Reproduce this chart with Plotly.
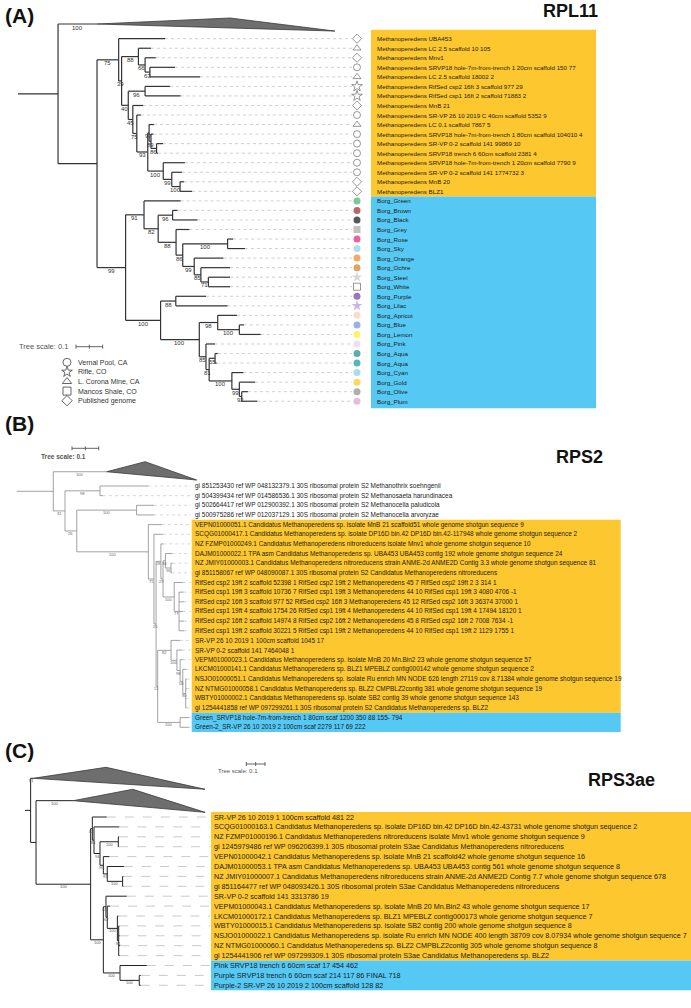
import plotly.graph_objects as go

W, H = 691, 1008
FONT = "Liberation Sans, Arial, Helvetica, sans-serif"
ORANGE = "#fdc72f"
BLUE = "#55c9f4"

# ======================= Panel A : RPL11 =======================
A_leaf_names = [
    "Methanoperedens UBA453",
    "Methanoperedens LC 2.5 scaffold 10 105",
    "Methanoperedens Mnv1",
    "Methanoperedens SRVP18 hole-7m-from-trench 1 20cm scaffold 150 77",
    "Methanoperedens LC 2.5 scaffold 18002 2",
    "Methanoperedens RifSed csp2 16ft 3 scaffold 977 29",
    "Methanoperedens RifSed csp1 16ft 2 scaffold 71883 2",
    "Methanoperedens MnB 21",
    "Methanoperedens SR-VP 26 10 2019 C 40cm scaffold 5352 9",
    "Methanoperedens LC 0.1 scaffold 7867 5",
    "Methanoperedens SRVP18 hole-7m-from-trench 1 80cm scaffold 104010 4",
    "Methanoperedens SR-VP 0-2 scaffold 141 99869 10",
    "Methanoperedens SRVP18 trench 6 60cm scaffold 2381 4",
    "Methanoperedens SRVP18 hole-7m-from-trench 1 20cm scaffold 7790 9",
    "Methanoperedens SR-VP 0-2 scaffold 141 1774732 3",
    "Methanoperedens MnB 20",
    "Methanoperedens BLZ1",
    "Borg_Green", "Borg_Brown", "Borg_Black", "Borg_Grey", "Borg_Rose", "Borg_Sky",
    "Borg_Orange", "Borg_Ochre", "Borg_Steel", "Borg_White", "Borg_Purple", "Borg_Lilac",
    "Borg_Apricot", "Borg_Blue", "Borg_Lemon", "Borg_Pink", "Borg_Aqua", "Borg_Aqua",
    "Borg_Cyan", "Borg_Gold", "Borg_Olive", "Borg_Plum",
]
A_leaf_depth = [0.551, 0.498, 0.516, 0.588, 0.682, 0.569, 0.609, 0.469, 0.460, 0.509,
                0.507, 0.543, 0.524, 0.625, 0.614, 0.622, 0.652,
                0.609, 0.597, 0.672, 0.642, 0.806, 0.850, 0.769, 0.794, 0.794, 0.794,
                0.704, 0.785, 0.820, 0.846, 0.909, 0.738, 0.748, 0.744, 0.844, 0.888,
                0.861, 0.896]
A_leaf_symbol = (["diamond-open", "triangle-up-open", "diamond-open", "circle-open",
                  "triangle-up-open", "star-open", "star-open", "diamond-open", "circle-open",
                  "triangle-up-open", "circle-open", "circle-open", "circle-open",
                  "circle-open", "circle-open", "diamond-open", "diamond-open"]
                 + ["circle", "circle", "circle", "square", "circle", "circle", "circle",
                    "circle", "star", "square-open", "circle", "star", "circle", "circle",
                    "circle", "circle", "circle", "circle", "circle", "circle", "circle",
                    "circle"])
A_leaf_color = (["#5a5a5a"] * 17
                + ["#3cb371", "#a3232b", "#111111", "#a6a6a6", "#e5197c", "#8ad0ee",
                   "#f4822b", "#cf7a2a", "#c8c8c8", "#5a5a5a", "#6b3fa0", "#a998dc",
                   "#f6cfb1", "#6e8fda", "#fff021", "#ecd0e4", "#148a8e", "#13959f",
                   "#7fd3e1", "#fdc814", "#8c8c8c", "#d59fcb"])

A_node_names = ["root", "A", "B", "C", "D", "F", "G", "E", "H", "I", "J", "K", "L", "L2",
                "L3", "M", "N", "O", "P", "Q", "S", "T", "U", "V", "W", "X", "Y", "Z",
                "R", "AA", "AB", "AC", "AE", "AD", "AF", "AQ", "AG", "AH", "AI"]
A_node_depth = [0.150, 0.296, 0.377, 0.388, 0.451, 0.476, 0.494, 0.413, 0.476, 0.430,
                0.445, 0.486, 0.491, 0.498, 0.519, 0.544, 0.576, 0.607, 0.403, 0.472,
                0.525, 0.579, 0.592, 0.617, 0.785, 0.660, 0.685, 0.713, 0.534, 0.591,
                0.679, 0.748, 0.829, 0.704, 0.716, 0.738, 0.801, 0.829, 0.838]
A_node_children = [["clA", "A"], ["B", "P"], [0, "C"], ["D", "E"], [1, "F"], [2, "G"],
                   [3, 4], ["H", "I"], [5, 6], [7, "J"], [8, "K"], ["L", "M"], [9, "L2"],
                   [10, "L3"], [11, 12], [13, "N"], [14, "O"], [15, 16], ["Q", "R"],
                   [17, "S"], ["T", "U"], [18, 19], [20, "V"], ["W", "X"], [21, 22],
                   [23, "Y"], [24, "Z"], [25, 26], ["AA", "AB"], [27, 28], ["AC", "AD"],
                   [29, "AE"], [30, 31], [32, "AF"], ["AQ", "AG"], [33, 34], [35, "AH"],
                   [36, "AI"], [37, 38]]
A_node_support = [None, None, 75, 39, 88, 66, 63, 40, 96, 45, 75, 93, 97, 89, 86, 100, 99,
                  100, 99, 91, 82, 96, 88, 86, 100, 99, 85, 71, 100, 88, 100, 98, 100, 85,
                  81, 55, 100, 99, 92]
A_clade_names = ["clA"]
A_clade_depth = [[0.296, 0.794, 1.187]]
A_clade_rows = [[-1.54, -2.17, -0.80]]
A_clade_support = [100]
A_legend_labels = ["Vernal Pool, CA", "Rifle, CO", "L. Corona Mine, CA",
                   "Mancos Shale, CO", "Published genome"]
A_legend_symbols = ["circle-open", "star-open", "triangle-up-open", "square-open",
                    "diamond-open"]

# ======================= Panel B : RPS2 =======================
B_leaf_names = [
    "gi 851253430 ref WP 048132379.1 30S ribosomal protein S2 Methanothrix soehngenii",
    "gi 504399434 ref WP 014586536.1 30S ribosomal protein S2 Methanosaeta harundinacea",
    "gi 502664417 ref WP 012900392.1 30S ribosomal protein S2 Methanocella paludicola",
    "gi 500975286 ref WP 012037129.1 30S ribosomal protein S2 Methanocella arvoryzae",
    "VEPN01000051.1 Candidatus Methanoperedens sp. isolate MnB 21 scaffold51 whole genome shotgun sequence 9",
    "SCQG01000417.1 Candidatus Methanoperedens sp. isolate DP16D bin.42 DP16D bin.42-117948 whole genome shotgun sequence 2",
    "NZ FZMP01000249.1 Candidatus Methanoperedens nitroreducens isolate Mnv1 whole genome shotgun sequence 10",
    "DAJM01000022.1 TPA asm Candidatus Methanoperedens sp. UBA453 UBA453 contig 192 whole genome shotgun sequence 24",
    "NZ JMIY01000003.1 Candidatus Methanoperedens nitroreducens strain ANME-2d ANME2D Contig 3.3 whole genome shotgun sequence 81",
    "gi 851158067 ref WP 048090087.1 30S ribosomal protein S2 Candidatus Methanoperedens nitroreducens",
    "RifSed csp2 19ft 2 scaffold 52398 1 RifSed csp2 19ft 2 Methanoperedens 45 7 RifSed csp2 19ft 2 3 314 1",
    "RifSed csp1 19ft 3 scaffold 10736 7 RifSed csp1 19ft 3 Methanoperedens 44 10 RifSed csp1 19ft 3 4080 4706 -1",
    "RifSed csp2 16ft 3 scaffold 977 52 RifSed csp2 16ft 3 Methanoperedens 45 12 RifSed csp2 16ft 3 36374 37000 1",
    "RifSed csp1 19ft 4 scaffold 1754 26 RifSed csp1 19ft 4 Methanoperedens 44 10 RifSed csp1 19ft 4 17494 18120 1",
    "RifSed csp2 16ft 2 scaffold 14974 8 RifSed csp2 16ft 2 Methanoperedens 45 8 RifSed csp2 16ft 2 7008 7634 -1",
    "RifSed csp1 19ft 2 scaffold 30221 5 RifSed csp1 19ft 2 Methanoperedens 44 10 RifSed csp1 19ft 2 1129 1755 1",
    "SR-VP 26 10 2019 1 100cm scaffold 1045 17",
    "SR-VP 0-2 scaffold 141 7464048 1",
    "VEPM01000023.1 Candidatus Methanoperedens sp. isolate MnB 20 Mn.Bin2 23 whole genome shotgun sequence 57",
    "LKCM01000141.1 Candidatus Methanoperedens sp. BLZ1 MPEBLZ contig000142 whole genome shotgun sequence 2",
    "NSJO01000051.1 Candidatus Methanoperedens sp. isolate Ru enrich MN NODE 626 length 27119 cov 8.71384 whole genome shotgun sequence 19",
    "NZ NTMG01000058.1 Candidatus Methanoperedens sp. BLZ2 CMPBLZ2contig 381 whole genome shotgun sequence 19",
    "WBTY01000002.1 Candidatus Methanoperedens sp. isolate SB2 contig 39 whole genome shotgun sequence 143",
    "gi 1254441858 ref WP 097299261.1 30S ribosomal protein S2 Candidatus Methanoperedens sp. BLZ2",
    "Green_SRVP18 hole-7m-from-trench 1 80cm scaf 1200 350 88 155- 794",
    "Green-2_SR-VP 26 10 2019 2 100cm scaf 2279 117 69 222",
]
B_leaf_depth = [0.493, 0.323, 0.514, 0.514, 0.544, 0.548, 0.549, 0.582, 0.584, 0.582,
                0.623, 0.625, 0.627, 0.623, 0.627, 0.628, 0.612, 0.619, 0.623, 0.634,
                0.638, 0.636, 0.634, 0.636, 0.645, 0.645]
B_node_names = ["root", "N31", "N98", "N26", "N100a", "N100b", "N75", "N25", "N28", "N29",
                "N36", "Npr", "N100r", "N77", "N21", "NSR", "NSR2", "NM", "NM2", "NM3", "NG"]
B_node_depth = [0.137, 0.181, 0.312, 0.225, 0.449, 0.493, 0.514, 0.522, 0.540, 0.548,
                0.557, 0.578, 0.590, 0.608, 0.528, 0.578, 0.600, 0.612, 0.622, 0.633, 0.612]
B_node_children = [["clB", "N31"], ["N98", "N26"], [0, 1], ["N100a", "N100b"], [2, 3],
                   [4, "N75"], [5, "N25"], ["N28", "N21"], [6, "N29"], ["N36", "N100r"],
                   [7, "Npr"], [8, 9], [10, "N77"], [11, 12, 13, 14, 15], ["NSR", "NG"],
                   [16, "NSR2"], [17, "NM"], [18, "NM2"], [19, "NM3"], [20, 21, 22, 23],
                   [24, 25]]
B_node_support = [None, 31, 98, 26, 100, 100, 75, 25, 28, 29, 36, 96, 100, 77, 21, 82,
                  100, 98, 58, 80, 100]
B_clade_names = ["clB"]
B_clade_depth = [[0.337, 0.481, 0.674]]
B_clade_rows = [[-1.48, -2.52, -0.62]]
B_clade_support = [100]

# ======================= Panel C : RPS3ae =======================
C_leaf_names = [
    "SR-VP 26 10 2019 1 100cm scaffold 481 22",
    "SCQG01000163.1 Candidatus Methanoperedens sp. isolate DP16D bin.42 DP16D bin.42-43731 whole genome shotgun sequence 2",
    "NZ FZMP01000196.1 Candidatus Methanoperedens nitroreducens isolate Mnv1 whole genome shotgun sequence 9",
    "gi 1245979486 ref WP 096206399.1 30S ribosomal protein S3ae Candidatus Methanoperedens nitroreducens",
    "VEPN01000042.1 Candidatus Methanoperedens sp. isolate MnB 21 scaffold42 whole genome shotgun sequence 16",
    "DAJM01000053.1 TPA asm Candidatus Methanoperedens sp. UBA453 UBA453 contig 561 whole genome shotgun sequence 8",
    "NZ JMIY01000007.1 Candidatus Methanoperedens nitroreducens strain ANME-2d ANME2D Contig 7.7 whole genome shotgun sequence 678",
    "gi 851164477 ref WP 048093426.1 30S ribosomal protein S3ae Candidatus Methanoperedens nitroreducens",
    "SR-VP 0-2 scaffold 141 3313786 19",
    "VEPM01000043.1 Candidatus Methanoperedens sp. isolate MnB 20 Mn.Bin2 43 whole genome shotgun sequence 17",
    "LKCM01000172.1 Candidatus Methanoperedens sp. BLZ1 MPEBLZ contig000173 whole genome shotgun sequence 7",
    "WBTY01000015.1 Candidatus Methanoperedens sp. isolate SB2 contig 200 whole genome shotgun sequence 8",
    "NSJO01000022.1 Candidatus Methanoperedens sp. isolate Ru enrich MN NODE 400 length 38709 cov 8.07934 whole genome shotgun sequence 7",
    "NZ NTMG01000060.1 Candidatus Methanoperedens sp. BLZ2 CMPBLZ2contig 305 whole genome shotgun sequence 8",
    "gi 1254441906 ref WP 097299309.1 30S ribosomal protein S3ae Candidatus Methanoperedens sp. BLZ2",
    "Pink SRVP18 trench 6 60cm scaf 17 454 462",
    "Purple SRVP18 trench 6 60cm scaf 214 117 86 FINAL 718",
    "Purple-2 SR-VP 26 10 2019 2 100cm scaffold 128 82",
]
C_leaf_depth = [0.437, 0.504, 0.503, 0.503, 0.451, 0.529, 0.526, 0.526, 0.544, 0.455,
                0.499, 0.504, 0.506, 0.508, 0.506, 0.651, 0.619, 0.619]
C_node_names = ["root", "NX", "NY", "NT", "NT2", "NT3", "NP23", "NT4", "NT5", "NQ",
                "NB2", "NMeth", "NM2", "NM3", "NM4", "NBorg", "NPur"]
C_node_depth = [0.030, 0.059, 0.351, 0.360, 0.369, 0.401, 0.499, 0.419, 0.440, 0.522,
                0.419, 0.433, 0.440, 0.494, 0.501, 0.508, 0.611]
C_node_children = [["clC1", "NX"], ["clC2", "NY"], ["NT", "NB2"], [0, "NT2"], [1, "NT3"],
                   ["NP23", "NT4"], [2, 3], [4, "NT5"], [5, "NQ"], [6, 7],
                   ["NMeth", "NBorg"], [8, "NM2"], [9, "NM3"], [10, "NM4"],
                   [11, 12, 13, 14], [15, "NPur"], [16, 17]]
C_node_support = [None, None, 100, 82, 84, 94, 100, 90, 91, 100, 100, 84, 62, 100, 81,
                  100, 100]
C_clade_names = ["clC1", "clC2"]
C_clade_depth = [[0.044, 0.433, 0.963], [0.258, 0.576, 0.963]]
C_clade_rows = [[-3.91, -5.02, -2.80], [-1.65, -2.80, -0.47]]
C_clade_support = [81, 100]

SCALE_LEN = 0.1

# ======================= layout geometry (pixels) =======================
PANELS = {
    "A": dict(x0=18.0, ppu=267.0, y0=38.7, rowh=9.54, xa="x", ya="y"),
    "B": dict(x0=16.7, ppu=267.0, y0=486.0, rowh=9.65, xa="x2", ya="y2"),
    "C": dict(x0=25.0, ppu=187.0, y0=817.0, rowh=9.9, xa="x3", ya="y3"),
}


def dx(p, px):
    g = PANELS[p]
    return (px - g["x0"]) / g["ppu"]


def dy(p, py):
    g = PANELS[p]
    return (py - g["y0"]) / g["rowh"]


def layout_tree(node_names, node_depth, node_children, node_support, leaf_depth,
                clade_names, clade_depth, clade_rows, clade_support):
    depth = dict(zip(node_names, node_depth))
    kids = dict(zip(node_names, node_children))
    sup = dict(zip(node_names, node_support))
    cl = {n: i for i, n in enumerate(clade_names)}
    parent = {}
    for n, ch in kids.items():
        for c in ch:
            parent[c] = n
    memo = {}

    def yy(c):
        if isinstance(c, int):
            return float(c)
        if c in cl:
            return clade_rows[cl[c]][0]
        if c not in memo:
            memo[c] = (yy(kids[c][0]) + yy(kids[c][-1])) / 2.0
        return memo[c]

    def dd(c):
        if isinstance(c, int):
            return leaf_depth[c]
        if c in cl:
            return clade_depth[cl[c]][0]
        return depth[c]

    xs, ys = [], []
    root = node_names[0]
    xs += [0.0, depth[root], None]
    ys += [yy(root), yy(root), None]
    for n in node_names:
        ch = kids[n]
        xs += [depth[n], depth[n], None]
        ys += [yy(ch[0]), yy(ch[-1]), None]
        for c in ch:
            xs += [depth[n], dd(c), None]
            ys += [yy(c), yy(c), None]
    labels = []
    for n in node_names:
        if n in parent and sup[n] is not None:
            labels.append(((dd(parent[n]) + dd(n)) / 2.0, yy(n), str(sup[n])))
    for c in clade_names:
        labels.append(((dd(parent[c]) + dd(c)) / 2.0, yy(c), str(clade_support[cl[c]])))
    return xs, ys, labels


fig = go.Figure()
annotations = []
shapes = []


def add_panel(p, leaf_names, leaf_depth, node_names, node_depth, node_children,
              node_support, clade_names, clade_depth, clade_rows, clade_support,
              branch_color, branch_width, sup_size, sup_color, sup_shift,
              leader_end_px, leader_color, leader_dash, text_px, text_size,
              boxes):
    g = PANELS[p]
    xa, ya = g["xa"], g["ya"]
    for (bx0, bx1, r0, r1, col) in boxes:
        shapes.append(dict(type="rect", xref="paper", yref=ya,
                           x0=bx0 / W, x1=bx1 / W, y0=r0, y1=r1,
                           fillcolor=col, line=dict(width=0), layer="below"))
    lx, ly = [], []
    lend = dx(p, leader_end_px)
    for i, d in enumerate(leaf_depth):
        lx += [d, lend, None]
        ly += [i, i, None]
    fig.add_trace(go.Scatter(x=lx, y=ly, mode="lines", xaxis=xa, yaxis=ya,
                             line=dict(color=leader_color, width=0.8, dash=leader_dash),
                             hoverinfo="skip", showlegend=False))
    for cd, cr in zip(clade_depth, clade_rows):
        fig.add_trace(go.Scatter(x=[cd[0], cd[1], cd[2], cd[0]],
                                 y=[cr[0], cr[1], cr[2], cr[0]],
                                 mode="lines", fill="toself", fillcolor="#6e6e6e",
                                 line=dict(color="#3a3a3a", width=0.8),
                                 xaxis=xa, yaxis=ya, hoverinfo="skip", showlegend=False))
    xs, ys, labels = layout_tree(node_names, node_depth, node_children, node_support,
                                 leaf_depth, clade_names, clade_depth, clade_rows,
                                 clade_support)
    fig.add_trace(go.Scatter(x=xs, y=ys, mode="lines", xaxis=xa, yaxis=ya,
                             line=dict(color=branch_color, width=branch_width),
                             hoverinfo="skip", showlegend=False))
    for (lxv, lyv, t) in labels:
        annotations.append(dict(x=lxv, y=lyv, xref=xa, yref=ya, text=t, showarrow=False,
                                xanchor="center", yanchor="middle", yshift=sup_shift,
                                font=dict(size=sup_size, color=sup_color, family=FONT)))
    for i, name in enumerate(leaf_names):
        annotations.append(dict(x=text_px / W, y=i, xref="paper", yref=ya, text=name,
                                showarrow=False, xanchor="left", yanchor="middle",
                                borderpad=0,
                                font=dict(size=text_size, color="#1a1a1a", family=FONT)))


def add_scale(p, start_px, y_px, text, tx_px, ty_px, anchor, size, bold):
    g = PANELS[p]
    xa, ya = g["xa"], g["ya"]
    s0 = dx(p, start_px)
    r = dy(p, y_px)
    t = 2.0 / g["rowh"]
    xs = [s0, s0 + SCALE_LEN, None]
    ys = [r, r, None]
    for f in (0.0, 0.5, 1.0):
        xs += [s0 + f * SCALE_LEN, s0 + f * SCALE_LEN, None]
        ys += [r - t, r + t, None]
    fig.add_trace(go.Scatter(x=xs, y=ys, mode="lines", xaxis=xa, yaxis=ya,
                             line=dict(color="#555555", width=0.9),
                             hoverinfo="skip", showlegend=False))
    txt = "<b>%s</b>" % text if bold else text
    annotations.append(dict(x=tx_px / W, y=1 - ty_px / H, xref="paper", yref="paper",
                            text=txt, showarrow=False, xanchor=anchor, yanchor="middle",
                            font=dict(size=size, color="#555555", family=FONT)))


# ---- Panel A ----
add_panel("A", A_leaf_names, A_leaf_depth, A_node_names, A_node_depth, A_node_children,
          A_node_support, A_clade_names, A_clade_depth, A_clade_rows, A_clade_support,
          branch_color="#333333", branch_width=1.2, sup_size=6, sup_color="#333333",
          sup_shift=-3.5, leader_end_px=352, leader_color="#c4c4c4", leader_dash="dot",
          text_px=376, text_size=6.2,
          boxes=[(371, 596, -0.95, 16.55, ORANGE), (371, 596, 16.55, 38.74, BLUE)])
open_w = [0.9 if s.endswith("open") else 0 for s in A_leaf_symbol]
sizes = [8 if s.startswith("star") else 7 for s in A_leaf_symbol]
fig.add_trace(go.Scatter(x=[dx("A", 357)] * len(A_leaf_names),
                         y=list(range(len(A_leaf_names))), mode="markers",
                         xaxis="x", yaxis="y",
                         marker=dict(symbol=A_leaf_symbol, color=A_leaf_color, size=sizes,
                                     line=dict(color=A_leaf_color, width=open_w)),
                         hoverinfo="skip", showlegend=False))
leg_rows = [dy("A", 362.3 + 9.6 * k) for k in range(len(A_legend_labels))]
fig.add_trace(go.Scatter(x=[dx("A", 67)] * len(A_legend_labels), y=leg_rows,
                         mode="markers", xaxis="x", yaxis="y",
                         marker=dict(symbol=A_legend_symbols, color="#555555", size=8,
                                     line=dict(color="#555555", width=0.9)),
                         hoverinfo="skip", showlegend=False))
for lab, r in zip(A_legend_labels, leg_rows):
    annotations.append(dict(x=76 / W, y=r, xref="paper", yref="y", text=lab,
                            showarrow=False, xanchor="left", yanchor="middle",
                            font=dict(size=7, color="#333333", family=FONT)))
add_scale("A", 76, 346.7, "Tree scale: 0.1", 70, 346.7, "right", 7.5, False)

# ---- Panel B ----
add_panel("B", B_leaf_names, B_leaf_depth, B_node_names, B_node_depth, B_node_children,
          B_node_support, B_clade_names, B_clade_depth, B_clade_rows, B_clade_support,
          branch_color="#8a8a8a", branch_width=0.8, sup_size=4, sup_color="#666666",
          sup_shift=-2.5, leader_end_px=191, leader_color="#cfcfcf", leader_dash="dot",
          text_px=194, text_size=6.45,
          boxes=[(191.7, 620.7, 3.5, 23.5, ORANGE), (191.7, 620.7, 23.5, 25.5, BLUE)])
add_scale("B", 72, 448.3, "Tree scale: 0.1", 63, 456.5, "center", 6.5, True)

# ---- Panel C ----
add_panel("C", C_leaf_names, C_leaf_depth, C_node_names, C_node_depth, C_node_children,
          C_node_support, C_clade_names, C_clade_depth, C_clade_rows, C_clade_support,
          branch_color="#222222", branch_width=1.0, sup_size=4, sup_color="#555555",
          sup_shift=-2.5, leader_end_px=210, leader_color="#bdbdbd", leader_dash="dash",
          text_px=213, text_size=7.2,
          boxes=[(211, 691, -0.5, 14.5, ORANGE), (211, 691, 14.5, 17.5, BLUE)])
add_scale("C", 246.3, 764, "Tree scale: 0.1", 238.3, 770.5, "center", 6, False)

# ---- titles ----
for t, x, y, anc, sz in [("(A)", 3, 15.5, "left", 21), ("RPL11", 570, 11.5, "center", 18),
                         ("(B)", 3, 423.5, "left", 21), ("RPS2", 579, 456.5, "center", 18),
                         ("(C)", 3, 750.5, "left", 21), ("RPS3ae", 621, 779.5, "center", 18)]:
    annotations.append(dict(x=x / W, y=1 - y / H, xref="paper", yref="paper",
                            text="<b>%s</b>" % t, showarrow=False, xanchor=anc,
                            yanchor="middle", font=dict(size=sz, color="#111111",
                                                        family=FONT)))

# ---- axes ----
layout_axes = {}
for p, g in PANELS.items():
    xr = [dx(p, 0), dx(p, W)]
    yr = [dy(p, H), dy(p, 0)]
    xk = "xaxis" if g["xa"] == "x" else "xaxis" + g["xa"][1:]
    yk = "yaxis" if g["ya"] == "y" else "yaxis" + g["ya"][1:]
    layout_axes[xk] = dict(range=xr, domain=[0, 1], visible=False, anchor=g["ya"],
                           fixedrange=True)
    layout_axes[yk] = dict(range=yr, domain=[0, 1], visible=False, anchor=g["xa"],
                           fixedrange=True)

fig.update_layout(width=W, height=H, margin=dict(l=0, r=0, t=0, b=0),
                  paper_bgcolor="white", plot_bgcolor="rgba(0,0,0,0)",
                  showlegend=False, annotations=annotations, shapes=shapes,
                  hovermode=False, **layout_axes)
fig.write_html("out.html", config={"displayModeBar": False, "staticPlot": True},
               post_script="document.body.style.margin='0';document.body.style.padding='0';")
